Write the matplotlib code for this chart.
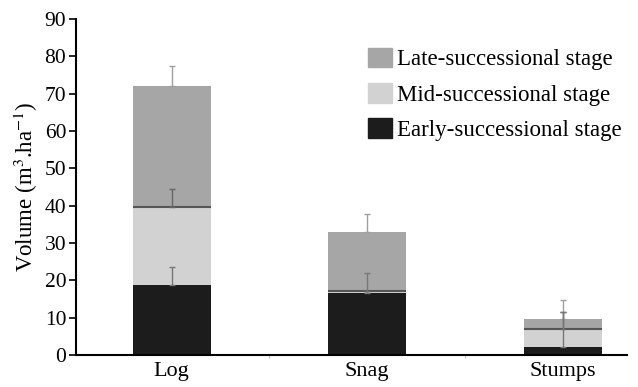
import numpy as np
import matplotlib.pyplot as plt
from matplotlib.patches import Patch

plt.rcParams['font.family'] = ['Liberation Serif', 'DejaVu Serif']
plt.rcParams['mathtext.fontset'] = 'stix'

# data
categories = ['Log', 'Snag', 'Stumps']
early = [18.7, 16.5, 2.1]
mid = [20.9, 0.7, 4.7]
late = [32.5, 15.7, 2.9]
early_err = [4.9, 5.5, 9.4]
mid_err = [4.9, 0.0, 4.7]
late_err = [5.4, 4.9, 4.9]

stages = ['Late-successional stage', 'Mid-successional stage', 'Early-successional stage']
colors = {'early': '#1c1c1c', 'mid': '#d2d2d2', 'late': '#a6a6a6'}

x = np.arange(len(categories))
w = 0.4
early = np.array(early)
mid = np.array(mid)
late = np.array(late)

fig = plt.figure(figsize=(6.38, 3.87), dpi=100)
ax = fig.add_axes([0.119, 0.083, 0.864, 0.868])

ax.bar(x, early, w, color=colors['early'], zorder=2)
ax.bar(x, mid, w, bottom=early, color=colors['mid'], zorder=2)
ax.bar(x, late, w, bottom=early + mid, color=colors['late'], zorder=2)
ax.hlines(early + mid, x - w / 2, x + w / 2, color='#555555', lw=1.5, zorder=3)

# upward error bars
ax.errorbar(x, early + mid + late, yerr=[np.zeros(3), late_err], fmt='none',
            ecolor='#a0a0a0', elinewidth=1, capsize=2, zorder=4)
ax.errorbar(x, early + mid, yerr=[np.zeros(3), mid_err], fmt='none',
            ecolor='#666666', elinewidth=1, capsize=2, zorder=4)
ax.errorbar(x, early, yerr=[np.zeros(3), early_err], fmt='none',
            ecolor='#777777', elinewidth=1, capsize=2, zorder=4)

ax.set_ylim(0, 90)
ax.set_xlim(-0.49, 2.33)
ax.set_yticks(range(0, 91, 10))
ax.set_xticks(x)
ax.set_xticklabels(categories)
ax.set_xticks([0.5, 1.5], minor=True)
ax.tick_params(axis='x', which='major', length=0, pad=5, labelsize=16)
ax.tick_params(axis='x', which='minor', length=2, color='#aaaaaa')
ax.tick_params(axis='y', length=5, width=1.2, pad=2, labelsize=15.5)
ax.spines['top'].set_visible(False)
ax.spines['right'].set_visible(False)
ax.spines['left'].set_linewidth(1.5)
ax.spines['bottom'].set_linewidth(1.5)
ax.set_ylabel('Volume (m$^3$.ha$^{-1}$)', fontsize=16.5, labelpad=3)

handles = [Patch(color=colors['late']), Patch(color=colors['mid']), Patch(color=colors['early'])]
ax.legend(handles, stages, loc='upper left', bbox_to_anchor=(0.53, 0.915), frameon=False,
          fontsize=16.5, handlelength=1.05, handleheight=0.95, handletextpad=0.2,
          labelspacing=0.55, borderaxespad=0, borderpad=0)

fig.savefig('out.png', dpi=100)
